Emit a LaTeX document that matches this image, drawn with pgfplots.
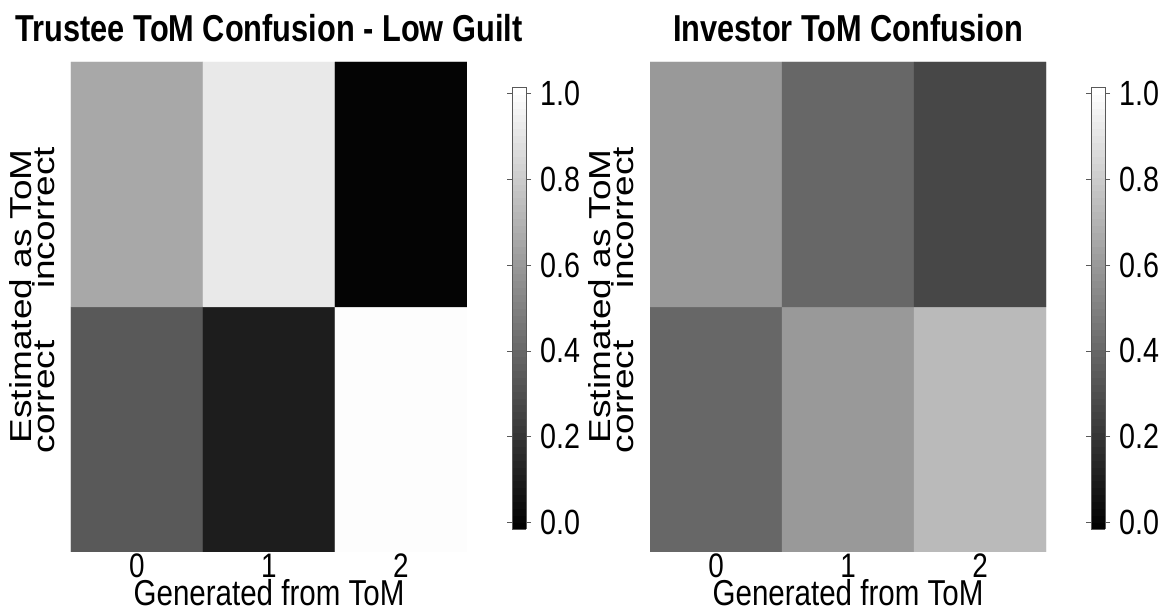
\documentclass[border=0pt]{standalone}
\usepackage{pgfplots}
\pgfplotsset{compat=1.18}
\usepackage{graphicx}
\usepackage{fontspec}
\setmainfont{Liberation Sans}[FakeStretch=0.82]
\newfontfamily\rotfont{Liberation Sans}
\newcommand\tfs{\fontsize{34}{36}\selectfont}
\newcommand\lfs{\fontsize{36}{38}\selectfont}
\newcommand\rot[1]{\rotatebox{90}{\scalebox{1}[0.82]{\rotfont\fontsize{37}{40}\selectfont #1}}}

\pgfplotsset{
  heat/.style={
    scale only axis, width=396pt, height=490pt,
    xmin=-0.5, xmax=2.5, ymin=-0.5, ymax=1.5,
    enlargelimits=false,
    axis line style={draw=none},
    major tick length=0pt,
    xtick={0,1,2}, xticklabels={0,1,2},
    ytick={0.133,0.863}, yticklabels={\rot{correct},\rot{incorrect}},
    xticklabel style={font=\tfs, anchor=base, yshift=-26pt, inner sep=0pt},
    yticklabel style={anchor=east, xshift=-16pt, inner sep=0pt},
    xlabel={Generated from ToM},
    every axis x label/.style={font=\lfs, at={(axis description cs:0.5,-0.1102)}, anchor=base, inner sep=0pt},
    ylabel={\rot{Estimated as ToM}},
    every axis y label/.style={at={(axis description cs:-0.0985,0.522)}, anchor=east, inner sep=0pt},
    every axis title/.style={font=\fontsize{37.5}{40}\selectfont\bfseries, at={(axis description cs:0.5,1.041)}, anchor=base, inner sep=0pt},
    colormap={bw}{gray(0cm)=(0); gray(1cm)=(1)},
    point meta min=-0.015, point meta max=1.015,
    colorbar sampled,
    colorbar style={
      samples=65,
      at={(parent axis.south east)}, anchor=south west,
      xshift=36.5pt, yshift=23pt,
      scale only axis, width=14pt, height=442pt,
      axis line style={draw=gray!70!black, line width=0.8pt},
      ytick={0,0.2,0.4,0.6,0.8,1},
      yticklabels={0.0,0.2,0.4,0.6,0.8,1.0},
      yticklabel style={font=\fontsize{35}{38}\selectfont, inner sep=0pt, xshift=9pt},
      major tick length=5pt, tick align=outside,
      ytick style={draw=gray!70!black, line width=0.8pt},
    },
  }
}

\begin{document}
\begin{tikzpicture}
\path[use as bounding box] (0,0) rectangle (1163pt,610pt);
\begin{axis}[heat, at={(71pt,58pt)}, anchor=south west,
  title={Trustee ToM Confusion - Low Guilt}]
\addplot[matrix plot*, mesh/cols=3, point meta=explicit] table[meta=c] {
x y c
0 0 0.34
1 0 0.10
2 0 1.00
0 1 0.66
1 1 0.92
2 1 0.00
};
\end{axis}
\begin{axis}[heat, at={(650pt,58pt)}, anchor=south west,
  title={Investor ToM Confusion}]
\addplot[matrix plot*, mesh/cols=3, point meta=explicit] table[meta=c] {
x y c
0 0 0.40
1 0 0.60
2 0 0.73
0 1 0.60
1 1 0.40
2 1 0.27
};
\end{axis}
\end{tikzpicture}
\end{document}
